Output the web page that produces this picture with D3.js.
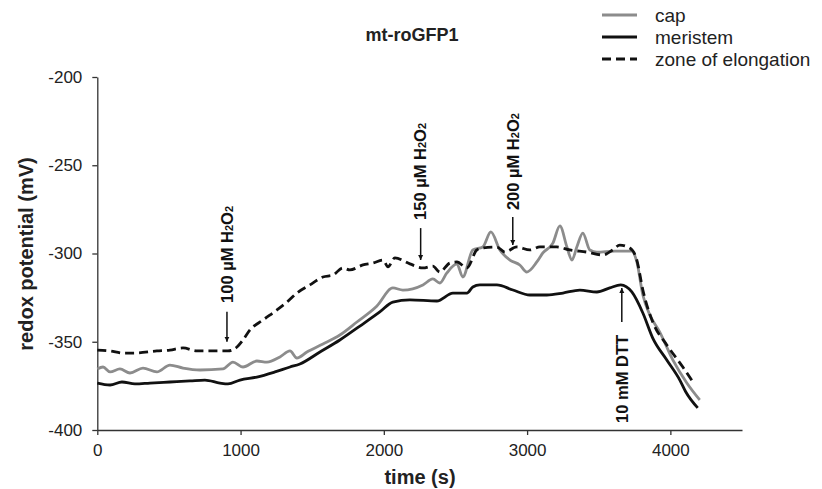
<!DOCTYPE html>
<html><head><meta charset="utf-8">
<script src="https://cdn.jsdelivr.net/npm/d3@7"></script>
<style>body{margin:0;background:#fff}</style>
</head><body>
<svg id="c" width="822" height="489"></svg>
<script>
const chartTitle = "mt-roGFP1";
const xLabel = "time (s)";
const yLabel = "redox potential (mV)";
const xTicks = [0, 1000, 2000, 3000, 4000];
const yTicks = [-400, -350, -300, -250, -200];
const seriesNames = ["cap", "meristem", "zone of elongation"];

const capT = [0,40,89,158,228,319,416,507,598,717,877,947,1017,1114,1184,1275,1345,1393,1463,1575,1693,1812,1952,2063,2133,2273,2342,2391,2440,2510,2551,2621,2691,2747,2810,2880,2949,2998,3068,3110,3180,3229,3278,3313,3347,3389,3438,3487,3612,3731,3766,3808,3857,3926,4017,4115,4205];
const capV = [-365.4,-364.3,-367.1,-365.4,-367.7,-364.9,-367.1,-363.2,-364.9,-366.0,-365.4,-361.5,-364.3,-360.9,-361.5,-358.6,-355.2,-359.2,-355.8,-351.3,-346.2,-338.8,-329.7,-319.5,-320.7,-317.8,-314.4,-316.7,-311.0,-305.9,-313.3,-298.0,-296.3,-287.8,-298.0,-303.7,-306.5,-310.5,-304.8,-299.7,-294.1,-284.4,-296.3,-303.7,-296.3,-288.4,-298.0,-299.2,-298.6,-298.6,-304.8,-323.5,-334.8,-344.5,-360.3,-373.4,-383.0];

const meriT = [0,89,172,263,368,507,647,751,856,912,996,1114,1240,1345,1414,1554,1693,1833,1972,2063,2182,2370,2482,2580,2621,2670,2789,2901,3019,3138,3250,3368,3487,3577,3654,3731,3808,3877,3975,4066,4108,4191];
const meriV = [-373.4,-374.5,-372.8,-373.9,-373.4,-372.8,-372.2,-371.7,-373.4,-373.9,-371.7,-370.0,-367.1,-364.3,-362.6,-355.8,-349.0,-341.1,-333.1,-327.5,-326.3,-326.9,-322.4,-322.4,-319.0,-317.8,-317.8,-320.7,-323.5,-323.5,-322.4,-320.7,-321.8,-319.5,-317.8,-321.8,-333.7,-347.9,-360.3,-371.7,-378.5,-387.5];

const zoneT = [0,89,179,249,416,507,598,696,912,975,1017,1066,1156,1254,1324,1393,1484,1575,1645,1714,1763,1854,1924,1994,2029,2077,2182,2273,2342,2391,2461,2510,2580,2649,2691,2789,2845,2928,3019,3089,3207,3298,3417,3529,3598,3647,3717,3766,3808,3877,3975,4087,4157];
const zoneV = [-354.7,-355.2,-356.4,-356.4,-355.2,-354.7,-353.5,-355.2,-355.2,-353.0,-349.0,-343.3,-337.7,-332.0,-327.5,-322.4,-317.8,-313.3,-312.2,-308.2,-309.3,-306.5,-305.4,-303.7,-307.6,-302.5,-305.9,-308.2,-307.1,-310.5,-305.4,-304.8,-308.2,-298.0,-296.9,-296.3,-299.2,-296.3,-298.0,-296.3,-296.3,-298.0,-299.2,-300.8,-298.0,-295.2,-296.9,-303.7,-320.7,-338.8,-351.8,-364.3,-372.8];

// annotations (data units)
const annotT = [905, 2257, 2900, 3661];
const annotTip = [-350.0, -303.7, -295.2, -319.5];
const annotTail = [-333.0, -285.6, -279.3, -338.8];
const annotTextStart = [-328.0, -281.0, -275.4, -396.0];
const annotConc = ["100", "150", "200", "10"];
const annotUnit = ["\u00b5M", "\u00b5M", "\u00b5M", "mM"];
const annotAgent = ["H2O2", "H2O2", "H2O2", "DTT"];

const FONT = "'Liberation Sans', Arial, Helvetica, sans-serif";
const svg = d3.select("#c");
const x = d3.scaleLinear().domain([0, 4500]).range([97.3, 742]);
const y = d3.scaleLinear().domain([-400, -200]).range([430, 77]);

// axes
const xa = svg.append("g").attr("transform", "translate(0,430)")
  .call(d3.axisBottom(x).tickValues(xTicks).tickSize(5).tickPadding(9).tickSizeOuter(0).tickFormat(d3.format("d")));
const ya = svg.append("g").attr("transform", "translate(97.3,0)")
  .call(d3.axisLeft(y).tickValues(yTicks).tickSize(5).tickPadding(10).tickSizeOuter(0));
[xa, ya].forEach(g => {
  g.selectAll("path,line").attr("stroke", "#333").attr("stroke-width", 1.3);
  g.selectAll("text").attr("font-family", FONT).attr("font-size", 17).attr("fill", "#222");
});
ya.selectAll("text").text(d => String(d));

// series
const line = d3.line().x(d => x(d[0])).y(d => y(d[1])).curve(d3.curveMonotoneX);
const zip = (a, b) => a.map((t, i) => [t, b[i]]);
const styles = [
  {stroke: "#8c8c8c", dash: null},
  {stroke: "#111", dash: null},
  {stroke: "#111", dash: "9,5"}
];
const data = [zip(capT, capV), zip(meriT, meriV), zip(zoneT, zoneV)];
data.forEach((d, i) => {
  svg.append("path").datum(d).attr("d", line).attr("fill", "none")
    .attr("stroke", styles[i].stroke).attr("stroke-width", 2.8)
    .attr("stroke-dasharray", styles[i].dash).attr("stroke-linejoin", "round");
});

// title
svg.append("text").attr("x", 412).attr("y", 41).attr("text-anchor", "middle")
  .attr("font-family", FONT).attr("font-weight", "bold").attr("font-size", 18).attr("fill", "#222").text(chartTitle);

// legend
const legY = [15, 37, 59];
seriesNames.forEach((n, i) => {
  svg.append("line").attr("x1", 602).attr("x2", 637).attr("y1", legY[i]).attr("y2", legY[i])
    .attr("stroke", styles[i].stroke).attr("stroke-width", 2.8).attr("stroke-dasharray", styles[i].dash);
  svg.append("text").attr("x", 655).attr("y", legY[i]).attr("dy", "0.35em")
    .attr("font-family", FONT).attr("font-size", 19).attr("fill", "#222").text(n);
});

// axis titles
svg.append("text").attr("x", 420).attr("y", 484).attr("text-anchor", "middle")
  .attr("font-family", FONT).attr("font-weight", "bold").attr("font-size", 20).attr("fill", "#222").text(xLabel);
svg.append("text").attr("transform", "translate(33,254) rotate(-90)").attr("text-anchor", "middle")
  .attr("font-family", FONT).attr("font-weight", "bold").attr("font-size", 20).attr("fill", "#222").text(yLabel);

// arrowhead marker
svg.append("defs").append("marker").attr("id", "ah").attr("viewBox", "0 0 10 10")
  .attr("refX", 10).attr("refY", 5).attr("markerWidth", 5).attr("markerHeight", 6)
  .attr("markerUnits", "userSpaceOnUse").attr("orient", "auto")
  .append("path").attr("d", "M0,0L10,5L0,10Z").attr("fill", "#111");

annotT.forEach((t, i) => {
  const px = x(t);
  svg.append("line").attr("x1", px).attr("x2", px).attr("y1", y(annotTail[i])).attr("y2", y(annotTip[i]))
    .attr("stroke", "#111").attr("stroke-width", 1.5).attr("marker-end", "url(#ah)");
  const tx = svg.append("text").attr("transform", `translate(${px},${y(annotTextStart[i])}) rotate(-90)`)
    .attr("dy", "0.35em").attr("font-family", FONT).attr("font-weight", "bold").attr("font-size", 16.5).attr("fill", "#111");
  tx.append("tspan").text(annotConc[i] + " " + annotUnit[i] + " ");
  if (annotAgent[i] === "H2O2") {
    tx.append("tspan").text("H");
    tx.append("tspan").attr("font-size", 11).text("2");
    tx.append("tspan").text("O");
    tx.append("tspan").attr("font-size", 11).text("2");
  } else {
    tx.append("tspan").text(annotAgent[i]);
  }
});
</script>
</body></html>
